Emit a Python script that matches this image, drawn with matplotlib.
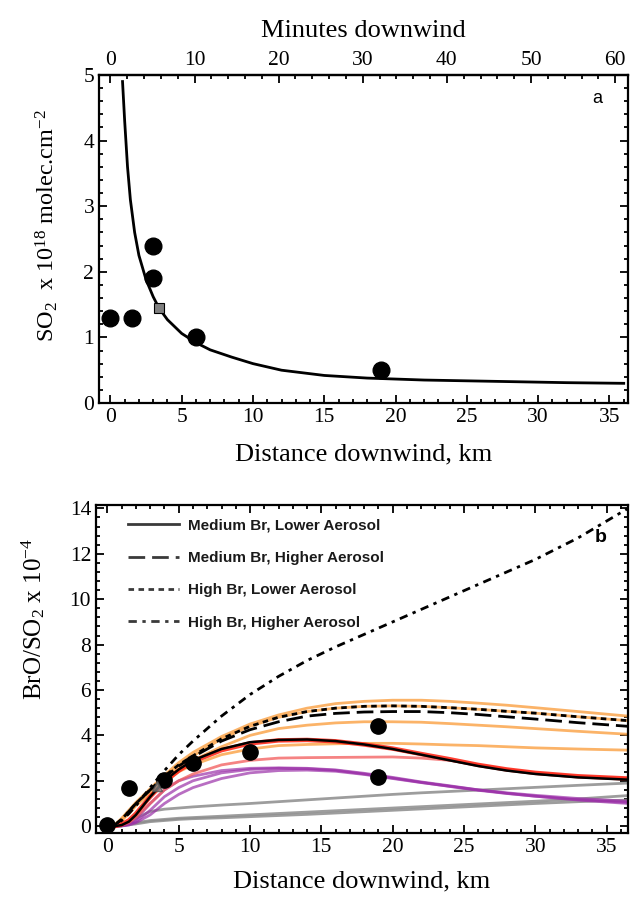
import matplotlib
matplotlib.use("Agg")
import matplotlib.pyplot as plt
from matplotlib.lines import Line2D
from matplotlib.ticker import MultipleLocator, FixedLocator

plt.rcParams['font.family'] = ['Liberation Serif', 'DejaVu Serif']
plt.rcParams['mathtext.fontset'] = 'stix'
plt.rcParams['mathtext.default'] = 'regular'

# ---------------- Panel a data ----------------
so2_obs_km = [0, 1.5, 3, 3, 6, 19]
so2_obs_val = [1.3, 1.3, 2.4, 1.9, 1.0, 0.5]
so2_sq_km = [3.4]
so2_sq_val = [1.45]
so2_fit_km = [0.85, 1.0, 1.2, 1.4, 1.7, 2.0, 2.5, 3.0, 3.4, 4.0, 5.0, 6.0, 7.0, 8.5, 10, 12, 15, 18, 22, 27, 32, 36]
so2_fit_val = [4.9, 4.3, 3.6, 3.1, 2.6, 2.25, 1.88, 1.62, 1.45, 1.27, 1.06, 0.92, 0.81, 0.7, 0.6, 0.5, 0.42, 0.38, 0.35, 0.33, 0.31, 0.30]
minute_ticks = [0, 10, 20, 30, 40, 50, 60]

# ---------------- Panel b data ----------------
bro_obs_km = [0, 1.5, 4, 6, 10, 19, 19]
bro_obs_val = [0.05, 1.7, 2.05, 2.8, 3.25, 4.4, 2.15]
bro_tri_km = [3.5]
bro_tri_val = [1.78]

km = [0, 0.5, 1, 1.5, 2, 3, 4, 5, 6, 8, 10, 12, 14, 16, 18, 20, 22, 24, 26, 28, 30, 33, 36.5]

med_lo = [0, 0, 0.05, 0.2, 0.5, 1.3, 2.0, 2.5, 2.9, 3.4, 3.7, 3.8, 3.82, 3.75, 3.6, 3.4, 3.15, 2.9, 2.65, 2.45, 2.3, 2.15, 2.05]
med_hi = [0, 0.05, 0.3, 0.65, 1.0, 1.6, 2.15, 2.65, 3.05, 3.75, 4.25, 4.6, 4.85, 4.97, 5.03, 5.05, 5.05, 5.0, 4.92, 4.82, 4.72, 4.56, 4.4]
high_lo = [0, 0.05, 0.3, 0.65, 1.0, 1.6, 2.2, 2.7, 3.1, 3.85, 4.4, 4.8, 5.05, 5.2, 5.28, 5.3, 5.28, 5.22, 5.15, 5.06, 4.98, 4.82, 4.65]
high_hi = [0, 0.05, 0.25, 0.55, 0.9, 1.7, 2.45, 3.15, 3.75, 4.85, 5.8, 6.6, 7.3, 7.9, 8.45, 9.0, 9.55, 10.1, 10.65, 11.2, 11.75, 12.7, 14.0]

orange_a = [0, 0.05, 0.35, 0.7, 1.05, 1.65, 2.25, 2.8, 3.25, 3.95, 4.5, 4.9, 5.2, 5.4, 5.5, 5.55, 5.55, 5.5, 5.42, 5.33, 5.22, 5.05, 4.85]
orange_b = [0, 0.05, 0.3, 0.65, 1.0, 1.6, 2.2, 2.7, 3.1, 3.85, 4.4, 4.8, 5.05, 5.2, 5.28, 5.3, 5.28, 5.22, 5.15, 5.06, 4.98, 4.82, 4.65]
orange_c = [0, 0.05, 0.3, 0.6, 0.95, 1.55, 2.1, 2.55, 2.9, 3.5, 4.0, 4.3, 4.45, 4.55, 4.6, 4.6, 4.58, 4.52, 4.45, 4.38, 4.3, 4.18, 4.05]
orange_d = [0, 0.05, 0.25, 0.55, 0.9, 1.45, 1.95, 2.4, 2.7, 3.15, 3.4, 3.55, 3.6, 3.63, 3.65, 3.65, 3.62, 3.58, 3.55, 3.5, 3.45, 3.4, 3.35]
red_a = [0, 0, 0.08, 0.25, 0.55, 1.3, 1.95, 2.45, 2.85, 3.35, 3.65, 3.78, 3.8, 3.74, 3.6, 3.42, 3.18, 2.95, 2.7, 2.5, 2.35, 2.2, 2.1]
red_b = [0, 0, 0.05, 0.15, 0.4, 1.0, 1.6, 2.0, 2.3, 2.7, 2.9, 3.0, 3.02, 3.03, 3.04, 3.05, 3.0, 2.9, 2.7, 2.5, 2.35, 2.2, 2.1]
purple_a = [0, 0, 0.02, 0.1, 0.3, 1.0, 1.6, 2.0, 2.2, 2.45, 2.55, 2.57, 2.55, 2.48, 2.33, 2.15, 1.95, 1.78, 1.6, 1.45, 1.32, 1.15, 1.0]
purple_b = [0, 0, 0.02, 0.08, 0.2, 0.7, 1.3, 1.7, 2.0, 2.35, 2.5, 2.55, 2.53, 2.46, 2.3, 2.12, 1.93, 1.75, 1.58, 1.44, 1.32, 1.17, 1.05]
purple_c = [0, 0, 0.01, 0.05, 0.15, 0.5, 1.0, 1.4, 1.7, 2.1, 2.35, 2.45, 2.47, 2.42, 2.28, 2.1, 1.92, 1.76, 1.6, 1.47, 1.36, 1.22, 1.1]
gray_a = [0, 0, 0.05, 0.15, 0.35, 0.65, 0.75, 0.8, 0.85, 0.93, 1.0, 1.08, 1.16, 1.24, 1.32, 1.4, 1.47, 1.53, 1.59, 1.65, 1.71, 1.8, 1.9]
gray_b = [0, 0, 0.02, 0.08, 0.15, 0.25, 0.3, 0.35, 0.38, 0.44, 0.5, 0.56, 0.62, 0.68, 0.74, 0.8, 0.86, 0.92, 0.98, 1.04, 1.1, 1.2, 1.35]
gray_c = [0, 0, 0.02, 0.06, 0.1, 0.2, 0.25, 0.3, 0.33, 0.37, 0.42, 0.47, 0.52, 0.58, 0.64, 0.7, 0.76, 0.82, 0.88, 0.94, 1.0, 1.08, 1.15]

legend_labels = ["Medium Br, Lower Aerosol", "Medium Br, Higher Aerosol",
                 "High Br, Lower Aerosol", "High Br, Higher Aerosol"]

W, H = 632, 899
fig = plt.figure(figsize=(W / 100, H / 100), dpi=100)

ax1 = fig.add_axes([99 / W, 1 - 403 / H, 529 / W, 328 / H])
ax2 = fig.add_axes([96 / W, 1 - 833 / H, 532 / W, 328 / H])

TICK_FS = 15.5

def style(ax):
    for s in ax.spines.values():
        s.set_linewidth(1.6)
    ax.tick_params(which='both', direction='in', width=1.3, labelsize=TICK_FS)
    ax.tick_params(which='major', length=6)
    ax.tick_params(which='minor', length=3)

# ---- Panel a ----
style(ax1)
ax1.plot(so2_fit_km, so2_fit_val, color='black', lw=2)
ax1.plot(so2_obs_km, so2_obs_val, 'o', color='black', ms=12)
ax1.plot(so2_sq_km, so2_sq_val, 's', color='#7f7f7f', mec='black', mew=0.8, ms=7)
ax1.set_xlim(-0.8, 36.3)
ax1.set_ylim(0, 5)
ax1.xaxis.set_major_locator(MultipleLocator(5))
ax1.xaxis.set_minor_locator(MultipleLocator(1))
ax1.yaxis.set_major_locator(MultipleLocator(1))
ax1.yaxis.set_minor_locator(MultipleLocator(0.2))
ax1.tick_params(which='both', top=False, right=True, labelright=False)
ax1.set_xlabel('Distance downwind, km', fontsize=19, labelpad=12)
ax1.set_ylabel('SO$_2$  x 10$^{18}$ molec.cm$^{-2}$', fontsize=17.5)
ax1.yaxis.set_label_coords(-0.074, 0.54)
ax1.text(0.951, 0.954, 'a', transform=ax1.transAxes, ha='right', va='top',
         fontsize=13, family=['Liberation Sans', 'DejaVu Sans'])
sec = ax1.secondary_xaxis('top', functions=(lambda x: x / 0.59, lambda m: m * 0.59))
sec.xaxis.set_major_locator(FixedLocator(minute_ticks))
sec.xaxis.set_minor_locator(FixedLocator(list(range(0, 61, 2))))
sec.tick_params(which='both', direction='in', width=1.3, labelsize=TICK_FS)
sec.tick_params(which='major', length=6)
sec.tick_params(which='minor', length=3)
sec.set_xlabel('Minutes downwind', fontsize=19, labelpad=10)
sec.spines['top'].set_linewidth(1.6)

# ---- Panel b ----
style(ax2)
for y in (gray_a, gray_b, gray_c):
    ax2.plot(km, y, color='#8c8c8c', lw=2, alpha=0.85)
for y in (purple_a, purple_b, purple_c):
    ax2.plot(km, y, color='#9b30a8', lw=2, alpha=0.7)
for y in (orange_a, orange_b, orange_c, orange_d):
    ax2.plot(km, y, color='#fba64e', lw=2, alpha=0.85)
ax2.plot(km, red_b, color='#f25a5a', lw=2, alpha=0.75)
ax2.plot(km, red_a, color='#ff2a1a', lw=3.2, alpha=0.9)
ax2.plot(km, med_lo, color='black', lw=1.8, ls='-')
ax2.plot(km, med_hi, color='black', lw=2, ls=(0, (6, 2.5)))
ax2.plot(km, high_lo, color='black', lw=2, ls=(0, (2, 1.6)))
ax2.plot(km, high_hi, color='black', lw=2, ls=(0, (3, 2, 1.2, 2)))
ax2.plot(bro_obs_km, bro_obs_val, 'o', color='black', ms=11)
ax2.plot(bro_tri_km, bro_tri_val, '^', color='#808080', mec='#555555', ms=7, alpha=0.8)
ax2.set_xlim(-0.8, 36.5)
ax2.set_ylim(-0.3, 14.15)
ax2.xaxis.set_major_locator(MultipleLocator(5))
ax2.xaxis.set_minor_locator(MultipleLocator(1))
ax2.yaxis.set_major_locator(MultipleLocator(2))
ax2.yaxis.set_minor_locator(MultipleLocator(0.4))
ax2.tick_params(which='both', top=True, right=True, labeltop=False, labelright=False)
ax2.set_xlabel('Distance downwind, km', fontsize=19, labelpad=10)
ax2.set_ylabel('BrO/SO$_2$ x 10$^{-4}$', fontsize=18)
ax2.yaxis.set_label_coords(-0.093, 0.652)
ax2.text(0.96, 0.927, 'b', transform=ax2.transAxes, ha='right', va='top',
         fontsize=14, fontweight='bold', family=['Liberation Sans', 'DejaVu Sans'])

styles = ['-', (0, (6, 2.5)), (0, (2, 1.6)), (0, (3, 2, 1.2, 2))]
handles = [Line2D([], [], color='#3a3a3a', lw=2, ls=s) for s in styles]
leg = ax2.legend(handles, legend_labels, loc='upper left', frameon=False,
                 bbox_to_anchor=(0.035, 1.0), handlelength=3.3, handletextpad=0.6,
                 labelspacing=1.2,
                 prop={'family': ['Liberation Sans', 'DejaVu Sans'], 'weight': 'bold', 'size': 11})
for t in leg.get_texts():
    t.set_color('#1a1a1a')

fig.savefig('out.png', dpi=100)
